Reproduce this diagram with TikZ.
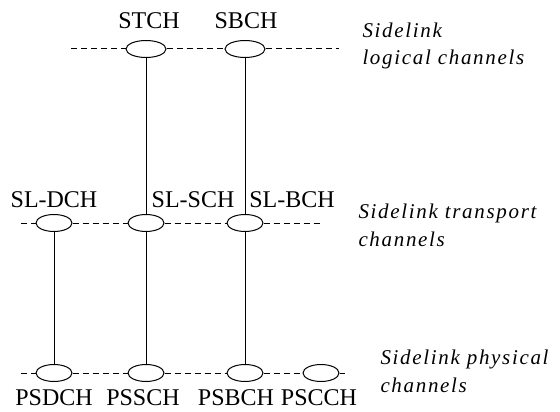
\documentclass[tikz,border=0pt]{standalone}
\usepackage{fontspec}
\setmainfont{Liberation Serif}
\newfontfamily\layerfont{Liberation Serif}[LetterSpace=8]
\usetikzlibrary{shapes.geometric}

\begin{document}
\begin{tikzpicture}[
                    x=1pt,y=-1pt,
                    line width=1pt,
                    font=\fontsize{24}{28}\selectfont
                ]
                \tikzstyle{chan}=[ellipse,draw,minimum width=36pt,minimum height=17pt,inner sep=0pt]
                \tikzstyle{row}=[dash pattern=on 6pt off 4pt]
                \tikzstyle{chname}=[anchor=base,inner sep=0pt]
                \tikzstyle{layer}=[anchor=base west,align=left,inner sep=0pt,
                    font=\layerfont\itshape\fontsize{21}{28}\selectfont]

                \useasboundingbox (0,0) rectangle (560,412);

                % logical channels
                \node[chan,minimum width=40pt] (STCH) at (146,49) {};
                \node[chan,minimum width=40pt] (SBCH) at (245,49) {};
                \coordinate (logA) at (71,49);
                \coordinate (logB) at (339,49);
                \node[chname] (tSTCH) at (149,29) {STCH};
                \node[chname] (tSBCH) at (246,29) {SBCH};
                \node[layer]  (logical) at (362,65) {Sidelink\\logical channels};

                % transport channels
                \node[chan] (SLDCH) at (54,223) {};
                \node[chan] (SLSCH) at (146,223) {};
                \node[chan] (SLBCH) at (245,223) {};
                \coordinate (trA) at (21,223);
                \coordinate (trB) at (323,223);
                \node[chname] (tSLDCH) at (54,207) {SL-DCH};
                \node[chname] (tSLSCH) at (193,207) {SL-SCH};
                \node[chname] (tSLBCH) at (292,207) {SL-BCH};
                \node[layer]  (transport) at (358,246) {Sidelink transport\\channels};

                % physical channels
                \node[chan] (PSDCH) at (54,373) {};
                \node[chan] (PSSCH) at (146,373) {};
                \node[chan] (PSBCH) at (245,373) {};
                \node[chan] (PSCCH) at (321,373) {};
                \coordinate (phA) at (21,373);
                \coordinate (phB) at (345,373);
                \node[chname] (tPSDCH) at (54,405) {PSDCH};
                \node[chname] (tPSSCH) at (143,405) {PSSCH};
                \node[chname] (tPSBCH) at (236,405) {PSBCH};
                \node[chname] (tPSCCH) at (319,405) {PSCCH};
                \node[layer]  (physical) at (380,392) {Sidelink physical\\channels};

                \path[row]
                (logA) edge (STCH.west)
                (STCH.east) edge (SBCH.west)
                (SBCH.east) edge (logB)
                (trA) edge (SLDCH.west)
                (SLDCH.east) edge (SLSCH.west)
                (SLSCH.east) edge (SLBCH.west)
                (SLBCH.east) edge (trB)
                (phA) edge (PSDCH.west)
                (PSDCH.east) edge (PSSCH.west)
                (PSSCH.east) edge (PSBCH.west)
                (PSBCH.east) edge (PSCCH.west)
                (PSCCH.east) edge (phB)
                ;

                \path
                (STCH) edge (SLSCH)
                (SLSCH) edge (PSSCH)
                (SBCH) edge (SLBCH)
                (SLBCH) edge (PSBCH)
                (SLDCH) edge (PSDCH)
                ;
            \end{tikzpicture}
\end{document}
